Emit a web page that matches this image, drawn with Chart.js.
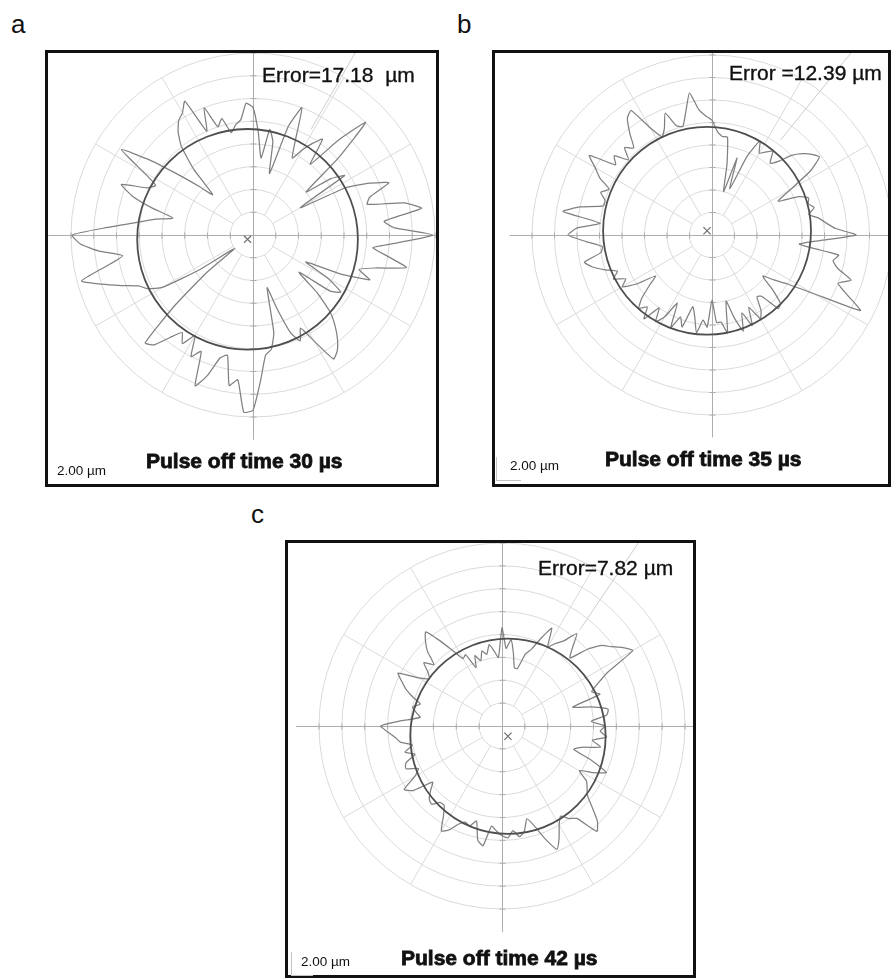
<!DOCTYPE html>
<html>
<head>
<meta charset="utf-8">
<script src="https://cdn.jsdelivr.net/npm/chart.js@4.4.1/dist/chart.umd.min.js"></script>
<style>
  html, body { margin: 0; padding: 0; background: #fff; }
  body { position: relative; width: 891px; height: 979px; overflow: hidden;
         font-family: "Liberation Sans", Arial, sans-serif; color: #111; }
  .box { position: absolute; box-sizing: border-box; border: 3px solid #111; overflow: hidden; background: #fff; }
  .box canvas { position: absolute; }
  .t { position: absolute; white-space: pre; }
  .lab { font-size: 26px; line-height: 26px; }
  .err { font-size: 21px; line-height: 21px; -webkit-text-stroke: 0.35px #111; }
  .ttl { font-size: 21px; line-height: 21px; font-weight: bold; -webkit-text-stroke: 0.8px #111; }
  .scl { font-size: 13.5px; line-height: 13.5px; }
  .bar { position: absolute; border-left: 1px solid #c4c4c4; border-bottom: 1px solid #c4c4c4; }
</style>
</head>
<body>

<div class="box" id="boxA" style="left:45px;top:50px;width:394px;height:437px;"><canvas id="chartA"></canvas></div>
<div class="box" id="boxB" style="left:492px;top:50px;width:399px;height:437px;"><canvas id="chartB"></canvas></div>
<div class="box" id="boxC" style="left:285px;top:540px;width:411px;height:438px;"><canvas id="chartC"></canvas></div>

<div class="bar" style="left:496px;top:457px;width:24px;height:23px;"></div>
<div class="bar" style="left:291px;top:952px;width:21px;height:23px;"></div>

<div class="t lab" style="left:11px;top:11px;">a</div>
<div class="t lab" style="left:457px;top:11px;">b</div>
<div class="t lab" style="left:251px;top:501px;">c</div>

<div class="t err" id="errA" style="left:262px;top:64px;"></div>
<div class="t err" id="errB" style="left:729px;top:62px;"></div>
<div class="t err" id="errC" style="left:538px;top:557px;"></div>

<div class="t ttl" id="ttlA" style="left:146px;top:450px;"></div>
<div class="t ttl" id="ttlB" style="left:605px;top:448px;"></div>
<div class="t ttl" id="ttlC" style="left:401px;top:947px;"></div>

<div class="t scl" id="sclA" style="left:57px;top:464px;"></div>
<div class="t scl" id="sclB" style="left:510px;top:459px;"></div>
<div class="t scl" id="sclC" style="left:301px;top:955px;"></div>

<script>
// Sampling angles of the roundness traces: every 3°, clockwise from 12 o'clock
const ANGLES = [];
for (let a = 0; a < 360; a += 3) ANGLES.push(a + '°');

// Measured profile radius (grid divisions from the plot centre) at each angle
const traceA = [
  5.6, 4.5, 3.4, 4.7, 4.2, 2.8, 5.0, 6.0, 4.6, 3.8,
  4.3, 4.8, 5.2, 4.0, 5.6, 7.0, 5.0, 3.0, 4.2, 4.8,
  2.4, 4.6, 5.6, 6.4, 5.4, 5.2, 6.8, 7.5, 5.8, 6.2,
  7.9, 6.4, 5.3, 6.0, 6.9, 5.6, 4.9, 5.5, 4.2, 2.6,
  3.8, 4.6, 4.2, 2.6, 3.8, 4.8, 5.4, 5.9, 6.3, 6.5,
  5.4, 4.6, 5.1, 4.6, 3.4, 2.4, 4.4, 5.1, 5.3, 6.4,
  7.7, 7.8, 6.4, 6.7, 5.4, 5.6, 6.5, 7.1, 5.6, 6.0,
  5.1, 5.7, 5.3, 5.8, 6.5, 6.7, 4.6, 2.6, 1.0, 2.8,
  4.6, 5.2, 5.5, 6.2, 7.0, 7.8, 6.6, 5.8, 6.8, 7.6,
  7.95, 6.4, 5.2, 4.4, 3.6, 4.6, 5.6, 6.2, 5.1, 4.8,
  5.6, 6.9, 5.6, 4.2, 3.2, 2.5, 3.9, 5.0, 5.6, 6.0,
  6.2, 6.6, 5.0, 6.0, 5.0, 5.3, 4.6, 4.9, 5.1, 5.8
];
const traceB = [
  5.1, 4.6, 4.4, 4.4, 3.2, 2.0, 3.6, 2.2, 3.8, 4.7,
  4.2, 4.4, 4.6, 4.1, 4.4, 5.0, 5.4, 5.7, 5.9, 5.2,
  4.0, 3.3, 4.2, 4.6, 4.5, 4.7, 4.4, 4.8, 5.1, 5.5,
  6.4, 4.8, 3.9, 5.7, 5.5, 5.8, 6.5, 6.0, 6.6, 7.4,
  5.2, 4.0, 3.4, 2.9, 3.6, 4.3, 4.4, 3.5, 3.4, 4.0,
  4.3, 3.6, 4.4, 3.7, 4.5, 3.8, 3.0, 4.4, 3.9, 3.9,
  2.9, 4.1, 3.8, 4.4, 3.7, 3.3, 4.3, 3.9, 4.5, 3.4,
  4.2, 4.6, 4.0, 4.8, 4.3, 4.6, 4.2, 3.6, 3.1, 4.0,
  4.6, 4.3, 4.8, 4.5, 5.0, 5.5, 5.8, 5.0, 4.9, 5.6,
  6.4, 6.0, 5.0, 6.7, 6.0, 5.0, 5.0, 5.3, 5.0, 5.6,
  6.0, 6.5, 5.3, 5.6, 5.0, 5.5, 5.2, 5.8, 6.4, 6.6,
  5.5, 4.9, 5.2, 5.8, 5.1, 5.0, 5.6, 6.4, 5.6, 5.3
];
const traceC = [
  4.3, 3.4, 3.8, 3.2, 2.6, 2.6, 3.3, 3.6, 4.2, 4.8,
  4.0, 4.3, 4.6, 5.2, 4.6, 4.2, 5.0, 5.6, 5.9, 6.3,
  6.6, 5.2, 4.6, 4.2, 4.5, 3.2, 4.0, 4.7, 4.6, 3.9,
  4.5, 4.3, 4.6, 4.0, 4.4, 3.6, 3.3, 4.2, 5.0, 4.5,
  3.9, 4.4, 4.6, 4.8, 5.3, 5.9, 6.2, 5.2, 5.0, 4.7,
  5.0, 5.5, 5.9, 5.3, 4.6, 4.2, 4.7, 4.9, 4.6, 4.9,
  4.8, 4.6, 4.4, 5.3, 5.1, 4.3, 4.6, 4.5, 4.7, 5.1,
  5.3, 4.7, 4.3, 4.3, 4.6, 4.5, 4.2, 3.9, 4.8, 5.1,
  4.4, 4.1, 4.6, 4.5, 4.0, 4.4, 4.0, 4.5, 4.7, 5.0,
  5.3, 4.4, 3.6, 3.8, 4.0, 3.7, 4.1, 4.5, 4.8, 5.1,
  4.2, 3.8, 4.0, 4.4, 4.0, 4.6, 5.0, 5.3, 4.6, 3.9,
  3.4, 3.5, 2.8, 3.3, 3.0, 3.4, 3.2, 3.6, 3.3, 3.0
];

// Least-squares reference circles: centre offset [right, down] and radius, in divisions
const refCentres = [[-0.24, 0.19], [-0.22, -0.19], [0.26, 0.45]];
const refRadii = [4.85, 4.62, 4.27];
// Direction of the peak deviation (degrees clockwise from 12 o'clock) and where its ray starts
const peakAngles = [30, 39, 34];
const peakStart = [5.6, 5.2, 5.6];

const errorLabels = ['Error=17.18  µm', 'Error =12.39 µm', 'Error=7.82 µm'];
const panelTitles = ['Pulse off time 30 µs', 'Pulse off time 35 µs', 'Pulse off time 42 µs'];
const scaleLabel = '2.00 µm';

['A', 'B', 'C'].forEach((k, i) => {
  document.getElementById('err' + k).textContent = errorLabels[i];
  document.getElementById('ttl' + k).textContent = panelTitles[i];
  document.getElementById('scl' + k).textContent = scaleLabel;
});

// Page geometry of each panel: box origin, plot centre and outer-ring radius (px)
const layouts = [
  { id: 'chartA', boxLeft: 45,  boxTop: 50,  cx: 253, cy: 235, R: 182 },
  { id: 'chartB', boxLeft: 492, boxTop: 50,  cx: 712, cy: 235, R: 180 },
  { id: 'chartC', boxLeft: 285, boxTop: 540, cx: 502, cy: 726, R: 183 }
];
const MARGIN = 80;
const BORDER = 3;

const GRID = '#dadada';
const AXIS = '#adadad';

// Cross-hair axes with division ticks, the reference circle, its centre mark and the peak ray
function overlayPlugin(i) {
  return {
    id: 'roundnessOverlay' + i,
    beforeDatasetsDraw(chart) {
      const s = chart.scales.r;
      const u = s.getDistanceFromCenterForValue(1);
      const x0 = s.xCenter, y0 = s.yCenter;
      const ctx = chart.ctx;
      ctx.save();
      ctx.strokeStyle = AXIS;
      ctx.lineWidth = 1;
      ctx.beginPath();
      ctx.moveTo(x0 - 9 * u, y0 + 0.5); ctx.lineTo(x0 + 9 * u, y0 + 0.5);
      ctx.moveTo(x0 + 0.5, y0 - 9 * u); ctx.lineTo(x0 + 0.5, y0 + 9 * u);
      for (let k = 1; k <= 8; k++) {
        const d = k * u;
        ctx.moveTo(x0 + d, y0 - 2.5); ctx.lineTo(x0 + d, y0 + 3.5);
        ctx.moveTo(x0 - d, y0 - 2.5); ctx.lineTo(x0 - d, y0 + 3.5);
        ctx.moveTo(x0 - 2.5, y0 + d); ctx.lineTo(x0 + 3.5, y0 + d);
        ctx.moveTo(x0 - 2.5, y0 - d); ctx.lineTo(x0 + 3.5, y0 - d);
      }
      ctx.stroke();
      // ray towards the peak deviation
      const mx = x0 + refCentres[i][0] * u, my = y0 + refCentres[i][1] * u;
      const a = peakAngles[i] * Math.PI / 180;
      ctx.strokeStyle = '#cdcdcd';
      ctx.beginPath();
      ctx.moveTo(mx + Math.sin(a) * peakStart[i] * u, my - Math.cos(a) * peakStart[i] * u);
      ctx.lineTo(mx + Math.sin(a) * 12 * u, my - Math.cos(a) * 12 * u);
      ctx.stroke();
      ctx.restore();
    },
    afterDatasetsDraw(chart) {
      const s = chart.scales.r;
      const u = s.getDistanceFromCenterForValue(1);
      const mx = s.xCenter + refCentres[i][0] * u, my = s.yCenter + refCentres[i][1] * u;
      const ctx = chart.ctx;
      ctx.save();
      ctx.strokeStyle = '#4e4e4e';
      ctx.lineWidth = 1.8;
      ctx.beginPath();
      ctx.arc(mx, my, refRadii[i] * u, 0, Math.PI * 2);
      ctx.stroke();
      ctx.strokeStyle = '#6c6c6c';
      ctx.lineWidth = 1.2;
      const h = 3.6;
      ctx.beginPath();
      ctx.moveTo(mx - h, my - h); ctx.lineTo(mx + h, my + h);
      ctx.moveTo(mx + h, my - h); ctx.lineTo(mx - h, my + h);
      ctx.stroke();
      ctx.restore();
    }
  };
}

const traces = [traceA, traceB, traceC];
const spoke = c => c.index % 10 === 0 && c.index % 30 !== 0;

layouts.forEach((L, i) => {
  const size = 2 * (L.R + MARGIN);
  const cv = document.getElementById(L.id);
  cv.width = size; cv.height = size;
  cv.style.width = size + 'px'; cv.style.height = size + 'px';
  cv.style.left = (L.cx - L.R - MARGIN - L.boxLeft - BORDER) + 'px';
  cv.style.top = (L.cy - L.R - MARGIN - L.boxTop - BORDER) + 'px';
  const unit = L.R / 8;

  new Chart(cv, {
    type: 'radar',
    data: {
      labels: ANGLES,
      datasets: [{
        data: traces[i],
        borderColor: '#808080',
        borderWidth: 1.25,
        pointRadius: 0,
        pointHoverRadius: 0,
        fill: false,
        tension: 0.15,
        clip: false
      }]
    },
    options: {
      responsive: false,
      animation: false,
      events: [],
      layout: { padding: MARGIN },
      plugins: { legend: { display: false }, tooltip: { enabled: false } },
      scales: {
        r: {
          min: 0, max: 8,
          ticks: { display: false, stepSize: 1 },
          pointLabels: { display: false },
          grid: { circular: true, color: GRID, lineWidth: 1 },
          angleLines: {
            color: c => spoke(c) ? GRID : 'rgba(0,0,0,0)',
            lineWidth: c => spoke(c) ? 1 : 0,
            borderDash: [0, unit, 1000, 0]
          }
        }
      }
    },
    plugins: [overlayPlugin(i)]
  });
});
</script>
</body>
</html>
